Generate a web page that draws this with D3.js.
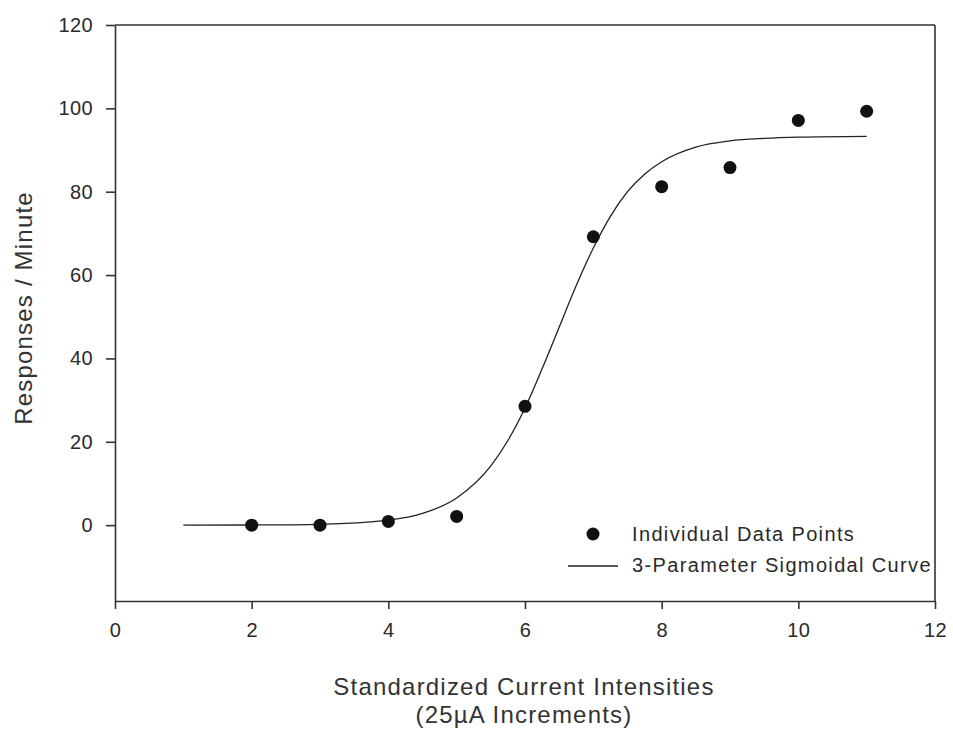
<!DOCTYPE html>
<html lang="en">
<head>
    <meta charset="UTF-8">
    <title>Responses vs Current Intensity</title>
    <script src="https://d3js.org/d3.v7.min.js"></script>
    <style>
        * { margin: 0; padding: 0; box-sizing: border-box; }
        body {
            background: #ffffff;
            font-family: "Liberation Sans", Arial, sans-serif;
        }
        .axis text {
            font-family: "Liberation Sans", Arial, sans-serif;
            font-size: 20px;
            fill: #2a2a2a;
            letter-spacing: 0.4px;
        }
        .axis path, .axis line {
            stroke: #333;
            stroke-width: 1.6px;
        }
        .title {
            font-size: 24px;
            fill: #333;
            letter-spacing: 1.2px;
        }
        .legend-text {
            font-size: 20px;
            fill: #2a2a2a;
            letter-spacing: 1.35px;
        }
    </style>
</head>
<body>
    <div id="chart"></div>

    <script>
        // Data points
        const intensities = [2, 3, 4, 5, 6, 7, 8, 9, 10, 11];
        const responses = [0, 0, 0.9, 2.1, 28.5, 69.2, 81.2, 85.8, 97.1, 99.3];

        // Fitted sigmoid curve, sampled off the figure
        const curveX = [1, 2, 3, 4, 4.5, 5, 5.5, 5.75, 6, 6.25, 6.5, 6.75, 7, 7.25, 7.5, 7.75, 8, 8.5, 9, 9.5, 10, 11];
        const curveY = [0, 0.04, 0.2, 1.2, 2.8, 6.5, 14.2, 20.3, 28.1, 37.5, 47.5, 57.5, 66.5, 74.1, 80.0, 84.2, 87.2, 90.7, 92.2, 92.8, 93.1, 93.3];

        const xTicks = [0, 2, 4, 6, 8, 10, 12];
        const yTicks = [0, 20, 40, 60, 80, 100, 120];

        const legendLabels = ["Individual Data Points", "3-Parameter Sigmoidal Curve"];

        const W = 953, H = 731;
        const margin = {top: 25, right: 18, bottom: 130, left: 115};
        const width = W - margin.left - margin.right;
        const height = H - margin.top - margin.bottom;

        const svg = d3.select("#chart")
            .append("svg")
            .attr("width", W)
            .attr("height", H);

        const g = svg.append("g")
            .attr("transform", `translate(${margin.left},${margin.top})`);

        const x = d3.scaleLinear().domain([0, 12]).range([0, width]);
        const y = d3.scaleLinear().domain([-18.2, 120]).range([height, 0]);

        // frame (top + right)
        g.append("line")
            .attr("x1", 0).attr("x2", width)
            .attr("y1", 0).attr("y2", 0)
            .attr("stroke", "#333").attr("stroke-width", 1.6);
        g.append("line")
            .attr("x1", width).attr("x2", width)
            .attr("y1", 0).attr("y2", height)
            .attr("stroke", "#333").attr("stroke-width", 1.6);

        // axes
        g.append("g")
            .attr("class", "axis")
            .attr("transform", `translate(0,${height})`)
            .call(d3.axisBottom(x).tickValues(xTicks).tickSize(8).tickSizeOuter(0).tickPadding(14));

        g.append("g")
            .attr("class", "axis")
            .call(d3.axisLeft(y).tickValues(yTicks).tickSize(9).tickSizeOuter(0).tickPadding(13));

        // sigmoid curve
        const line = d3.line()
            .x((d, i) => x(curveX[i]))
            .y(d => y(d))
            .curve(d3.curveMonotoneX);

        g.append("path")
            .datum(curveY)
            .attr("fill", "none")
            .attr("stroke", "#222")
            .attr("stroke-width", 1.3)
            .attr("d", line);

        // data points
        g.selectAll(".dot")
            .data(responses)
            .enter()
            .append("circle")
            .attr("class", "dot")
            .attr("cx", (d, i) => x(intensities[i]))
            .attr("cy", d => y(d))
            .attr("r", 6.5)
            .attr("fill", "#111");

        // axis titles
        svg.append("text")
            .attr("class", "title")
            .attr("text-anchor", "middle")
            .attr("transform", `translate(32,308) rotate(-90)`)
            .text("Responses / Minute");

        svg.append("text")
            .attr("class", "title")
            .attr("text-anchor", "middle")
            .attr("x", margin.left + width / 2 - 1)
            .attr("y", 695)
            .text("Standardized Current Intensities");

        svg.append("text")
            .attr("class", "title")
            .attr("text-anchor", "middle")
            .attr("x", margin.left + width / 2 - 1)
            .attr("y", 723)
            .text("(25\u00B5A Increments)");

        // legend
        const legend = svg.append("g");
        legend.append("circle")
            .attr("cx", 593).attr("cy", 534)
            .attr("r", 6.5).attr("fill", "#111");
        legend.append("line")
            .attr("x1", 568).attr("x2", 618)
            .attr("y1", 566).attr("y2", 566)
            .attr("stroke", "#222").attr("stroke-width", 1.3);
        legend.selectAll(".legend-text")
            .data(legendLabels)
            .enter()
            .append("text")
            .attr("class", "legend-text")
            .attr("x", 632)
            .attr("y", (d, i) => 541 + i * 31)
            .text(d => d);
    </script>
</body>
</html>
